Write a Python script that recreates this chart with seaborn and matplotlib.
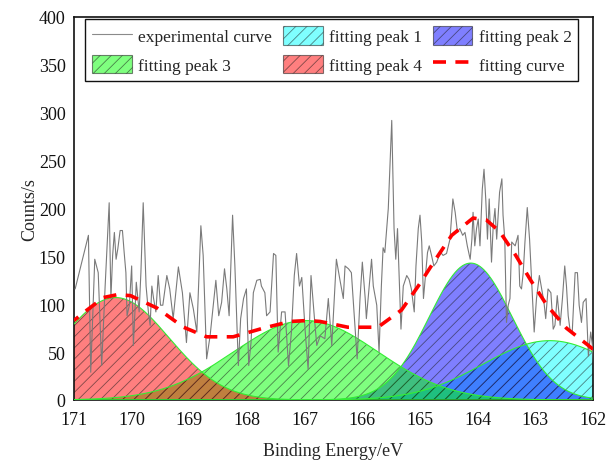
import numpy as np
import pandas as pd
import matplotlib
matplotlib.use("Agg")
import matplotlib.pyplot as plt
from matplotlib.lines import Line2D
from matplotlib.patches import Patch
import seaborn as sns

# ---------------- data ----------------
exp_energy = [
    170.98, 170.75, 170.71, 170.64, 170.58, 170.52, 170.46, 170.39, 170.36, 170.33,
    170.30, 170.27, 170.24, 170.20, 170.16, 170.13, 170.10, 170.08, 170.04, 170.00,
    169.97, 169.92, 169.87, 169.84, 169.80, 169.75, 169.71, 169.68, 169.65, 169.62,
    169.58, 169.54, 169.50, 169.46, 169.39, 169.34, 169.28, 169.19, 169.12, 169.05,
    168.99, 168.93, 168.87, 168.80, 168.76, 168.70, 168.64, 168.54, 168.49, 168.44,
    168.39, 168.35, 168.31, 168.25, 168.21, 168.15, 168.11, 168.06, 168.01, 167.97,
    167.93, 167.89, 167.83, 167.77, 167.75, 167.69, 167.66, 167.60, 167.54, 167.50,
    167.46, 167.40, 167.34, 167.28, 167.23, 167.18, 167.14, 167.09, 167.05, 166.99,
    166.94, 166.89, 166.83, 166.79, 166.73, 166.65, 166.59, 166.53, 166.45, 166.39,
    166.33, 166.30, 166.24, 166.19, 166.13, 166.09, 166.04, 166.00, 165.95, 165.93,
    165.88, 165.84, 165.81, 165.75, 165.71, 165.67, 165.64, 165.61, 165.55, 165.49,
    165.45, 165.42, 165.39, 165.36, 165.33, 165.29, 165.23, 165.19, 165.15, 165.10,
    165.07, 165.03, 165.00, 164.97, 164.94, 164.90, 164.87, 164.84, 164.80, 164.76,
    164.71, 164.68, 164.64, 164.60, 164.54, 164.48, 164.43, 164.39, 164.35, 164.31,
    164.26, 164.22, 164.18, 164.13, 164.10, 164.08, 164.05, 164.02, 163.99, 163.96,
    163.92, 163.89, 163.86, 163.83, 163.80, 163.76, 163.73, 163.70, 163.67, 163.62,
    163.58, 163.56, 163.53, 163.50, 163.47, 163.44, 163.41, 163.35, 163.30, 163.27,
    163.24, 163.21, 163.18, 163.14, 163.10, 163.06, 163.02, 162.98, 162.93, 162.89,
    162.85, 162.82, 162.78, 162.73, 162.69, 162.66, 162.62, 162.57, 162.53, 162.49,
    162.46, 162.43, 162.40, 162.36, 162.31, 162.27, 162.24, 162.20, 162.17, 162.12,
    162.08, 162.04, 162.01, 161.98,
]
exp_counts = [
    116, 172, 29, 147, 133, 36, 119, 206, 106, 151,
    175, 147, 158, 177, 177, 154, 133, 88, 99, 140,
    57, 123, 92, 133, 206, 119, 92, 78, 119, 106,
    92, 130, 99, 99, 130, 116, 85, 139, 112, 60,
    112, 95, 71, 182, 151, 43, 67, 125, 88, 102,
    137, 116, 88, 193, 140, 36, 85, 106, 116, 36,
    60, 112, 125, 126, 119, 112, 88, 92, 153, 151,
    50, 92, 92, 36, 71, 130, 153, 119, 128, 71,
    32, 130, 85, 57, 67, 64, 106, 57, 147, 126,
    106, 140, 137, 133, 78, 43, 106, 144, 106, 85,
    119, 147, 119, 99, 50, 119, 159, 154, 200, 292,
    179, 147, 179, 126, 74, 119, 130, 126, 116, 92,
    140, 179, 193, 165, 106, 133, 154, 161, 151, 140,
    144, 149, 154, 151, 153, 168, 210, 196, 175, 179,
    172, 175, 161, 147, 168, 196, 161, 179, 189, 161,
    220, 241, 210, 168, 210, 144, 182, 200, 168, 217,
    231, 193, 168, 81, 99, 106, 165, 161, 172, 119,
    116, 133, 165, 201, 168, 119, 71, 106, 130, 116,
    102, 85, 116, 112, 74, 78, 109, 78, 106, 140,
    119, 88, 74, 71, 133, 133, 99, 81, 102, 106,
    46, 71, 57, 25,
]

fit_energy = [171.0, 170.86, 170.49, 170.25, 170.02, 169.56, 169.1, 168.7, 168.24,
              167.72, 167.25, 166.95, 166.73, 166.25, 165.73, 165.32, 165.03, 164.74,
              164.45, 164.08, 163.85, 163.62, 163.35, 163.08, 162.8, 162.46, 162.08, 162.0]
fit_counts = [83, 90, 107, 110, 109, 96, 76, 66, 66,
              75, 82, 83, 82, 76, 76, 94, 119, 146,
              172, 190, 188, 176, 152, 125, 99, 75, 57, 53]

peak_names = ["fitting peak 1", "fitting peak 2", "fitting peak 3", "fitting peak 4"]
peak_centers = [162.75, 164.12, 166.98, 170.28]
peak_heights = [62, 143, 83, 107]
peak_sigmas = [1.15, 0.72, 1.25, 0.93]
peak_colors = ["#00ffff", "#0000ff", "#00ff00", "#ff0000"]

x_ticks = [171, 170, 169, 168, 167, 166, 165, 164, 163, 162]
y_ticks = [0, 50, 100, 150, 200, 250, 300, 350, 400]

# ---------------- style ----------------
sns.set_style("ticks")
plt.rcParams["font.family"] = ["Liberation Serif", "DejaVu Serif"]
plt.rcParams["hatch.linewidth"] = 0.6
plt.rcParams["axes.linewidth"] = 1.2

fig = plt.figure(figsize=(6.10, 4.64), dpi=100)
ax = fig.add_axes([74 / 610, 1 - 401 / 464, 519 / 610, 383 / 464])

exp_df = pd.DataFrame({"energy": exp_energy, "counts": exp_counts})
fit_df = pd.DataFrame({"energy": fit_energy, "counts": fit_counts})

grid = np.linspace(162, 171, 600)
hatch_col = (0.1, 0.1, 0.1, 0.55)
for name, c, h, s, col in zip(peak_names, peak_centers, peak_heights, peak_sigmas, peak_colors):
    yv = h * np.exp(-(grid - c) ** 2 / (2 * s ** 2))
    rgba = matplotlib.colors.to_rgba(col, 0.5)
    ax.fill_between(grid, 0, yv, facecolor=rgba, edgecolor=hatch_col,
                    hatch="///", linewidth=0, zorder=2)
    ax.plot(grid, yv, color="#33ee33", linewidth=0.8, zorder=3)

sns.lineplot(data=exp_df, x="energy", y="counts", ax=ax, color="#7a7a7a",
             linewidth=0.8, estimator=None, sort=False, zorder=4)
sns.lineplot(data=fit_df, x="energy", y="counts", ax=ax, color="#ff0000",
             linewidth=2.6, estimator=None, linestyle=(0, (3.6, 2.6)), zorder=5)

ax.set_xlim(171, 162)
ax.set_ylim(0, 400)
ax.set_xticks(x_ticks)
ax.set_xticklabels([str(t) for t in x_ticks])
ax.set_yticks(y_ticks)
ax.set_yticklabels([str(t) for t in y_ticks])
ax.tick_params(length=0, labelsize=13, colors="#111111")
ax.tick_params(axis="x", pad=8)
ax.tick_params(axis="y", pad=6)
ax.set_xlabel("Binding Energy/eV", fontsize=13, labelpad=10)
ax.set_ylabel("Counts/s", fontsize=13, labelpad=0.5)
for sp in ax.spines.values():
    sp.set_visible(True)
    sp.set_color("#111111")

handles = [
    Line2D([], [], color="#8a8a8a", linewidth=0.8),
    Patch(facecolor=matplotlib.colors.to_rgba(peak_colors[2], 0.5), edgecolor=hatch_col, hatch="///", linewidth=0.8),
    Patch(facecolor=matplotlib.colors.to_rgba(peak_colors[0], 0.5), edgecolor=hatch_col, hatch="///", linewidth=0.8),
    Patch(facecolor=matplotlib.colors.to_rgba(peak_colors[3], 0.5), edgecolor=hatch_col, hatch="///", linewidth=0.8),
    Patch(facecolor=matplotlib.colors.to_rgba(peak_colors[1], 0.5), edgecolor=hatch_col, hatch="///", linewidth=0.8),
    Line2D([], [], color="#ff0000", linewidth=2.6, linestyle=(0, (3.6, 2.6))),
]
labels = ["experimental curve", "fitting peak 3", "fitting peak 1",
          "fitting peak 4", "fitting peak 2", "fitting curve"]
leg = ax.legend(handles, labels, ncol=3, loc="upper left",
                bbox_to_anchor=(0.022, 0.5, 0.95, 0.494), mode="expand",
                fontsize=12.5, frameon=True, fancybox=False, framealpha=1,
                edgecolor="#111111", handlelength=2.3, handleheight=1.25,
                handletextpad=0.35, columnspacing=0.5, borderpad=0.4,
                labelspacing=0.55, borderaxespad=0)
leg.get_frame().set_linewidth(1.0)

fig.savefig("out.png", dpi=100)
